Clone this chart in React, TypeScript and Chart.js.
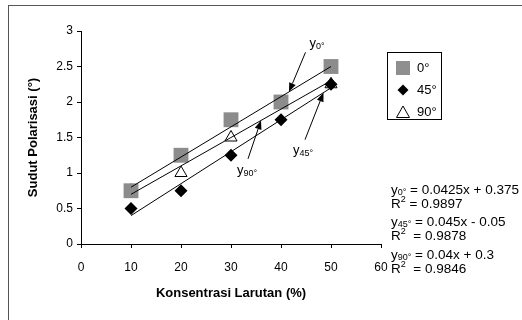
import React, { useEffect, useRef } from 'react';
import { Chart, registerables } from 'chart.js';

Chart.register(...registerables);

// ---- data ----
const concentrations = [10, 20, 30, 40, 50];
const angle0 = [0.75, 1.25, 1.75, 2.0, 2.5];
const angle45 = [0.5, 0.75, 1.25, 1.75, 2.25];
const angle90 = [0.75, 1.0, 1.5, 2.0, 2.25];
const seriesLabels = ['0°', '45°', '90°'];
const slopes = [0.0425, 0.045, 0.04];
const intercepts = [0.375, -0.05, 0.3];
const equationTexts = [' = 0.0425x + 0.375', ' = 0.045x - 0.05', ' = 0.04x + 0.3'];
const rSquaredTexts = [' = 0.9897', '  = 0.9878', '  = 0.9846'];
const trendRange = [10, 50];
const xTitle = 'Konsentrasi Larutan (%)';
const yTitle = 'Sudut Polarisasi (°)';

const FONT = "'Liberation Sans', Arial, sans-serif";

// annotation layout (data coordinates): label anchor, arrow tail, arrow tip x on trend line
const annotations = [
  { series: 0, label: { x: 45.7, y: 2.82 }, tail: { x: 44.9, y: 2.7 }, tipX: 41.6 },
  { series: 1, label: { x: 42.4, y: 1.32 }, tail: { x: 44.8, y: 1.47 }, tipX: 48.5 },
  { series: 2, label: { x: 31.2, y: 1.04 }, tail: { x: 33.4, y: 1.2 }, tipX: 36.0 },
];

function drawSubText(ctx: CanvasRenderingContext2D, x: number, y: number, main: string, sub: string, rest: string, size: number, sup = false) {
  ctx.textBaseline = 'middle';
  ctx.textAlign = 'left';
  ctx.font = `${size}px ${FONT}`;
  ctx.fillText(main, x, y);
  let cx = x + ctx.measureText(main).width;
  ctx.font = `${Math.round(size * 0.7)}px ${FONT}`;
  ctx.fillText(sub, cx, sup ? y - 4 : y + 3);
  cx += ctx.measureText(sub).width;
  ctx.font = `${size}px ${FONT}`;
  ctx.fillText(rest, cx, y);
}

function drawArrow(ctx: CanvasRenderingContext2D, x1: number, y1: number, x2: number, y2: number) {
  const ang = Math.atan2(y2 - y1, x2 - x1);
  const hl = 9, hw = 3.5;
  const bx = x2 - Math.cos(ang) * hl;
  const by = y2 - Math.sin(ang) * hl;
  ctx.strokeStyle = '#000';
  ctx.lineWidth = 1;
  ctx.beginPath();
  ctx.moveTo(x1, y1);
  ctx.lineTo(bx, by);
  ctx.stroke();
  ctx.fillStyle = '#000';
  ctx.beginPath();
  ctx.moveTo(x2, y2);
  ctx.lineTo(bx + Math.sin(ang) * hw, by - Math.cos(ang) * hw);
  ctx.lineTo(bx - Math.sin(ang) * hw, by + Math.cos(ang) * hw);
  ctx.closePath();
  ctx.fill();
}

const decorPlugin = {
  id: 'decor',
  beforeDraw(chart: any) {
    const ctx = chart.ctx as CanvasRenderingContext2D;
    ctx.save();
    ctx.fillStyle = '#fff';
    ctx.fillRect(0, 0, chart.width, chart.height);
    ctx.strokeStyle = '#555';
    ctx.lineWidth = 1;
    ctx.strokeRect(8.5, 5.5, chart.width + 20, chart.height + 20);
    ctx.restore();
  },
  afterDraw(chart: any) {
    const ctx = chart.ctx as CanvasRenderingContext2D;
    const xs = chart.scales.x;
    const ys = chart.scales.y;
    ctx.save();
    ctx.fillStyle = '#000';
    // annotations with arrows
    annotations.forEach((a) => {
      const lx = xs.getPixelForValue(a.label.x);
      const ly = ys.getPixelForValue(a.label.y);
      ctx.fillStyle = '#000';
      drawSubText(ctx, lx, ly, 'y', seriesLabels[a.series], '', 13);
      const tx = xs.getPixelForValue(a.tail.x);
      const ty = ys.getPixelForValue(a.tail.y);
      const px = xs.getPixelForValue(a.tipX);
      const py = ys.getPixelForValue(slopes[a.series] * a.tipX + intercepts[a.series]);
      drawArrow(ctx, tx, ty, px, py);
    });
    // legend box
    const bx = 387, by = 52, bw = 54, bh = 67;
    ctx.strokeStyle = '#000';
    ctx.lineWidth = 1;
    ctx.strokeRect(bx + 0.5, by + 0.5, bw, bh);
    const rows = [by + 16, by + 38, by + 60];
    const mx = bx + 16;
    // square
    ctx.fillStyle = '#8f8f8f';
    ctx.fillRect(mx - 7, rows[0] - 7, 14, 14);
    // diamond
    ctx.fillStyle = '#000';
    ctx.beginPath();
    ctx.moveTo(mx, rows[1] - 5.5);
    ctx.lineTo(mx + 5.5, rows[1]);
    ctx.lineTo(mx, rows[1] + 5.5);
    ctx.lineTo(mx - 5.5, rows[1]);
    ctx.closePath();
    ctx.fill();
    // triangle
    ctx.fillStyle = '#fff';
    ctx.beginPath();
    ctx.moveTo(mx, rows[2] - 6);
    ctx.lineTo(mx + 6.5, rows[2] + 5.5);
    ctx.lineTo(mx - 6.5, rows[2] + 5.5);
    ctx.closePath();
    ctx.fill();
    ctx.stroke();
    ctx.fillStyle = '#000';
    ctx.font = `13px ${FONT}`;
    ctx.textAlign = 'left';
    ctx.textBaseline = 'middle';
    seriesLabels.forEach((l, i) => ctx.fillText(l, bx + 30, rows[i]));
    // equations
    const ex = 391;
    const eqY = [190, 204, 222, 236, 255, 269];
    seriesLabels.forEach((l, i) => {
      drawSubText(ctx, ex, eqY[i * 2], 'y', l, equationTexts[i], 13.5);
      drawSubText(ctx, ex, eqY[i * 2 + 1], 'R', '2', rSquaredTexts[i], 13.5, true);
    });
    ctx.restore();
  },
};

export default function App() {
  const ref = useRef<HTMLCanvasElement>(null);
  useEffect(() => {
    const canvas = ref.current!;
    const pts = (arr: number[]) => concentrations.map((x, i) => ({ x, y: arr[i] }));
    const trend = (i: number) => trendRange.map((x) => ({ x, y: slopes[i] * x + intercepts[i] }));
    const trendDs = (i: number) => ({
      type: 'line' as const,
      label: 'trend ' + seriesLabels[i],
      data: trend(i),
      showLine: true,
      borderColor: '#000',
      borderWidth: 1,
      pointRadius: 0,
      fill: false,
      order: 0,
    });
    const fmt = (v: any) => String(Number(v));
    const chart = new Chart(canvas, {
      type: 'scatter',
      data: {
        datasets: [
          { label: seriesLabels[0], data: pts(angle0), pointStyle: 'rect', pointRadius: 10.5, backgroundColor: '#8c8c8c', borderColor: '#8c8c8c', borderWidth: 0, order: 1 },
          { label: seriesLabels[1], data: pts(angle45), pointStyle: 'rectRot', pointRadius: 6.5, backgroundColor: '#000', borderColor: '#000', borderWidth: 0, order: 1 },
          { label: seriesLabels[2], data: pts(angle90), pointStyle: 'triangle', pointRadius: 7, backgroundColor: '#fff', borderColor: '#000', borderWidth: 1, order: 1 },
          trendDs(0),
          trendDs(1),
          trendDs(2),
        ] as any,
      },
      options: {
        animation: false,
        responsive: false,
        maintainAspectRatio: false,
        layout: { padding: { left: 0, top: 31, right: 141, bottom: 0 } },
        plugins: { legend: { display: false }, tooltip: { enabled: false }, title: { display: false } },
        scales: {
          x: {
            type: 'linear',
            min: 0,
            max: 60,
            ticks: { stepSize: 10, color: '#000', font: { family: FONT, size: 12 }, padding: 12, callback: fmt },
            grid: { drawOnChartArea: false, tickLength: 4, color: '#000' },
            border: { color: '#000', width: 1 },
            title: { display: true, text: xTitle, color: '#000', font: { family: FONT, size: 13, weight: 'bold' }, padding: { top: 0, bottom: 19 } },
            afterFit: (s: any) => { s.height = 76; },
          },
          y: {
            type: 'linear',
            min: 0,
            max: 3,
            ticks: { stepSize: 0.5, color: '#000', font: { family: FONT, size: 12 }, padding: 4, callback: fmt },
            grid: { drawOnChartArea: false, tickLength: 4, color: '#000' },
            border: { color: '#000', width: 1 },
            title: { display: true, text: yTitle, color: '#000', font: { family: FONT, size: 13, weight: 'bold' }, padding: { top: 26, bottom: 0 } },
            afterFit: (s: any) => { s.width = 81; },
          },
        },
      },
      plugins: [decorPlugin],
    } as any);
    return () => chart.destroy();
  }, []);
  return (
    <div style={{ position: 'fixed', left: 0, top: 0, width: 522, height: 320, background: '#fff' }}>
      <canvas ref={ref} width={522} height={320} style={{ width: 522, height: 320, display: 'block' }} />
    </div>
  );
}
